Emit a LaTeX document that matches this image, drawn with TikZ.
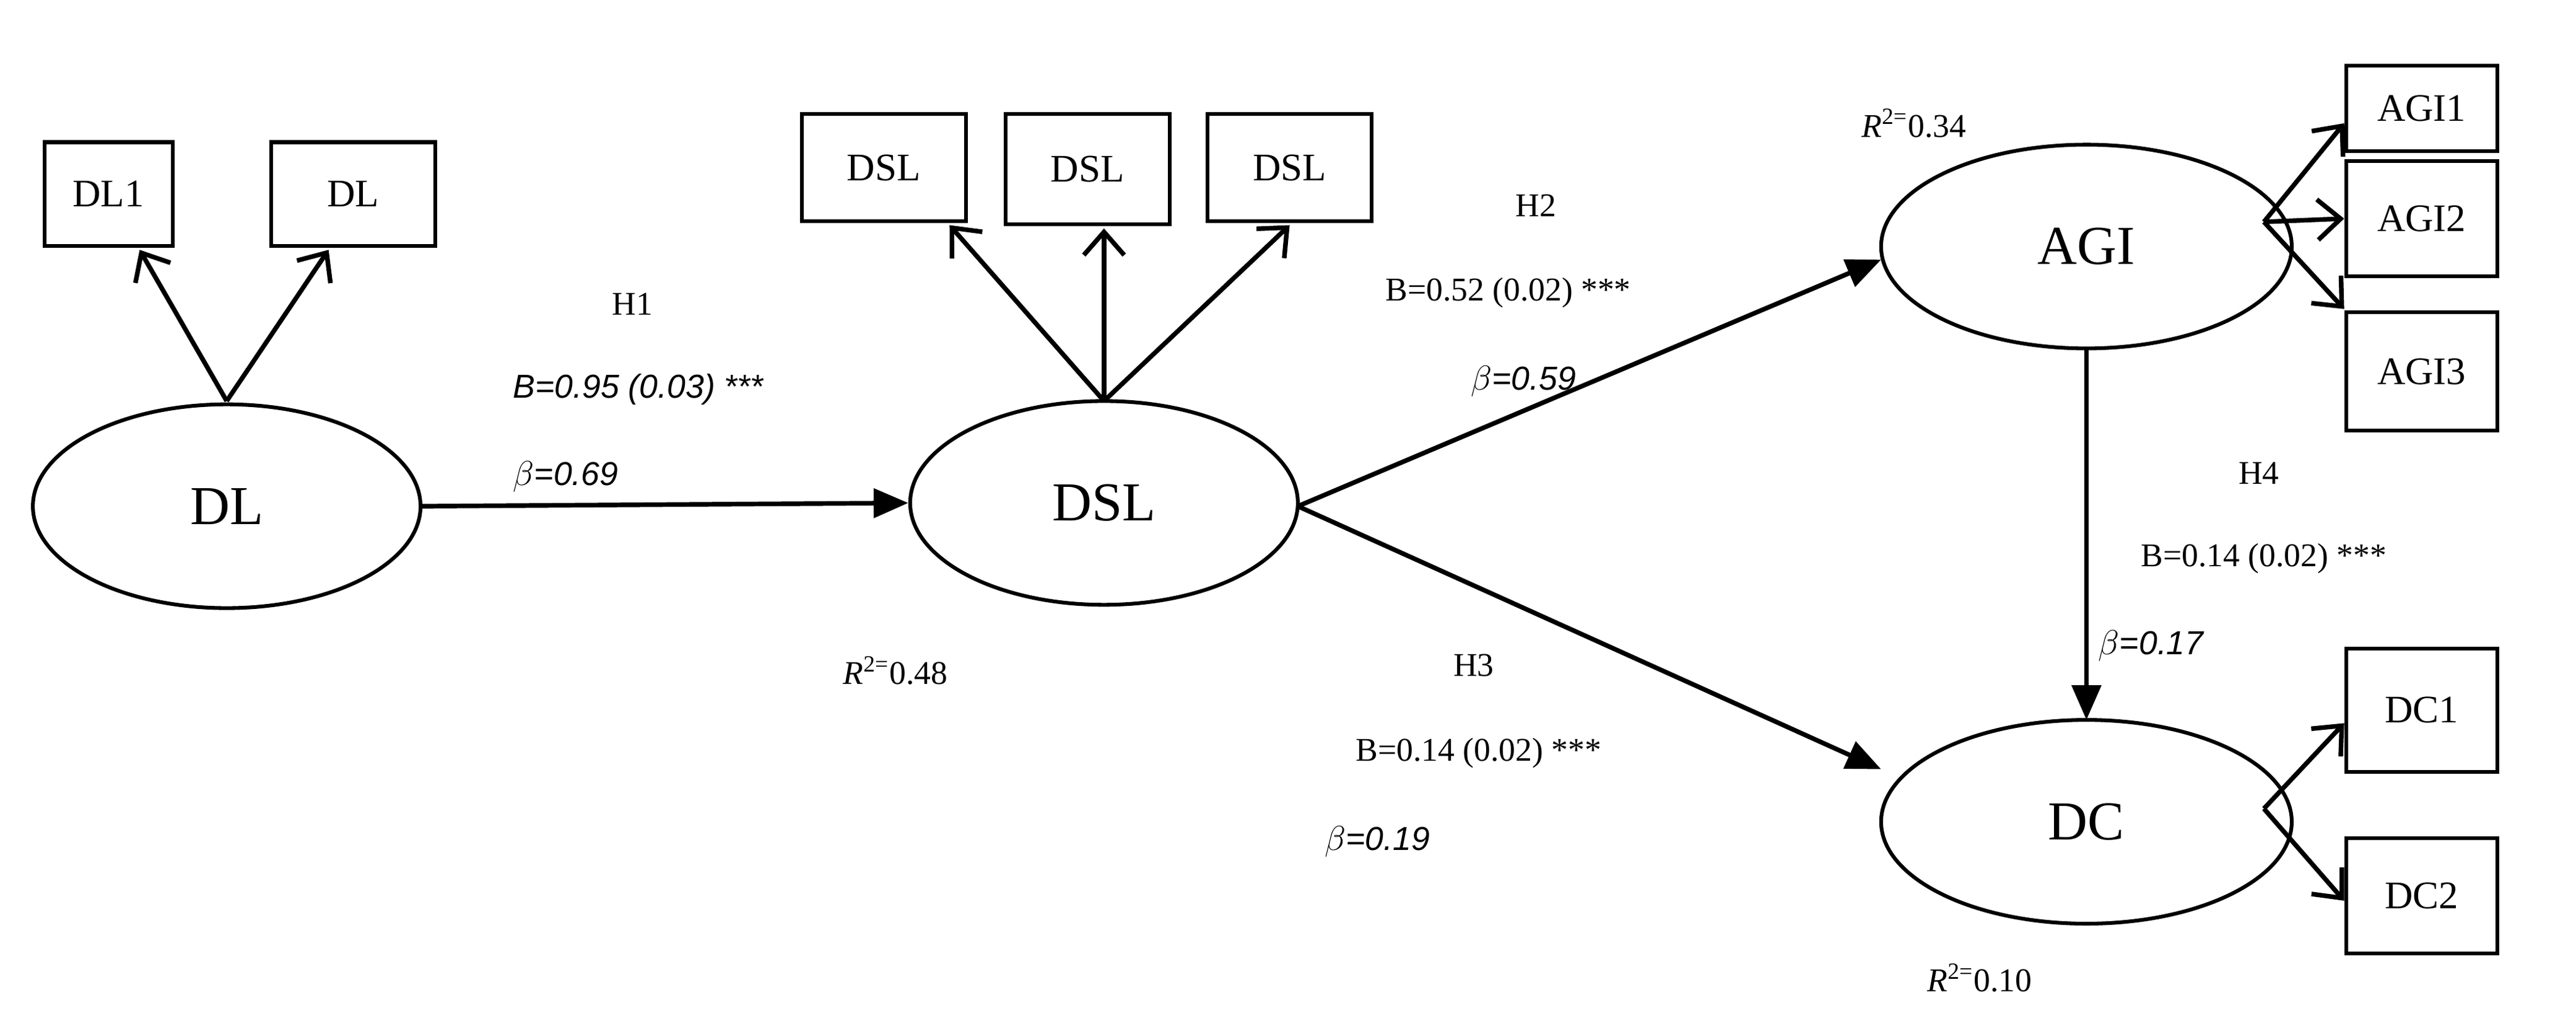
\documentclass[tikz,border=0pt]{standalone}
\usepackage{fontspec}
\setmainfont{Liberation Serif}
\newfontfamily\sanf{Liberation Sans}
\usetikzlibrary{arrows.meta,shapes.geometric}
\begin{document}
\begin{tikzpicture}[x=0.02cm,y=-0.02cm,
 lat/.style={draw,line width=1.3pt,ellipse,minimum width=4.72cm,minimum height=2.48cm,font=\fontsize{19}{21}\selectfont},
 latb/.style={lat,minimum width=5cm},
 box/.style={draw,line width=1.3pt,minimum width=2cm,minimum height=1.3cm,font=\fontsize{13.5}{15}\selectfont},
 sbox/.style={box,minimum width=1.84cm},
 ind/.style={line width=1.6pt,-{Straight Barb[length=8pt,width=14pt]}},
 path/.style={line width=1.6pt,-{Triangle[length=12pt,width=10pt]}},
 lab/.style={font=\fontsize{11.5}{13}\selectfont,inner sep=0pt},
 slab/.style={font=\sanf\itshape\fontsize{11.5}{13}\selectfont,inner sep=0pt,anchor=west}]
\useasboundingbox (0,0) rectangle (1568,618);
\node[lat] (DL) at (138,308) {DL};
\node[lat] (DSL) at (672,306) {DSL};
\node[latb] (AGI) at (1270,150) {AGI};
\node[latb] (DC) at (1270,500) {DC};
\node[box,minimum width=1.56cm,minimum height=1.26cm] (dl1) at (66,118) {DL1};
\node[box,minimum height=1.26cm] (dl2) at (215,118) {DL};
\node[box] (ds1) at (538,102) {DSL};
\node[box,minimum height=1.34cm] (ds2) at (662,103) {DSL};
\node[box] (ds3) at (785,102) {DSL};
\node[sbox,minimum height=1.04cm] (a1) at (1474,66) {AGI1};
\node[sbox,minimum height=1.4cm] (a2) at (1474,133) {AGI2};
\node[sbox,minimum height=1.44cm] (a3) at (1474,226) {AGI3};
\node[sbox,minimum height=1.5cm] (c1) at (1474,432) {DC1};
\node[sbox,minimum height=1.4cm] (c2) at (1474,545) {DC2};
\coordinate (dlt) at (138,244);
\coordinate (dst) at (672,244);
\coordinate (ar) at (1378,135);
\coordinate (cr) at (1378,492);
\draw[ind] (dlt) -- (85,152);
\draw[ind] (dlt) -- (200,152);
\draw[ind] (dst) -- (578,137);
\draw[ind] (dst) -- (672,139);
\draw[ind] (dst) -- (785,137);
\draw[ind] (ar) -- (a1.west|-0,75);
\draw[ind] (ar) -- (a2.west);
\draw[ind] (ar) -- (a3.west|-0,188);
\draw[ind] (cr) -- (c1.west|-0,440);
\draw[ind] (cr) -- (c2.west|-0,548);
\draw[path] (DL.east) -- (DSL.west);
\coordinate (dse) at (790,308);
\draw[path] (dse) -- (1145,158);
\draw[path] (dse) -- (1145,468);
\draw[path] (AGI.south) -- (1270,438);
\node[lab] (h1) at (385,185) {H1};
\node[slab] (b1) at (312,237) {B=0.95 (0.03) ***};
\node[slab] (g1) at (312,290) {$\beta$=0.69};
\node[lab] (r1) at (545,408) {\textit{R}\textsuperscript{2=}0.48};
\node[lab] (h2) at (935,125) {H2};
\node[lab] (b2) at (918,178) {B=0.52 (0.02) ***};
\node[slab] (g2) at (895,232) {$\beta$=0.59};
\node[lab] (r2) at (1165,75) {\textit{R}\textsuperscript{2=}0.34};
\node[lab] (h3) at (897,405) {H3};
\node[lab] (b3) at (900,458) {B=0.14 (0.02) ***};
\node[slab] (g3) at (806,512) {$\beta$=0.19};
\node[lab] (h4) at (1375,288) {H4};
\node[lab] (b4) at (1378,340) {B=0.14 (0.02) ***};
\node[slab] (g4) at (1277,393) {$\beta$=0.17};
\node[lab] (r4) at (1205,595) {\textit{R}\textsuperscript{2=}0.10};
\end{tikzpicture}
\end{document}
